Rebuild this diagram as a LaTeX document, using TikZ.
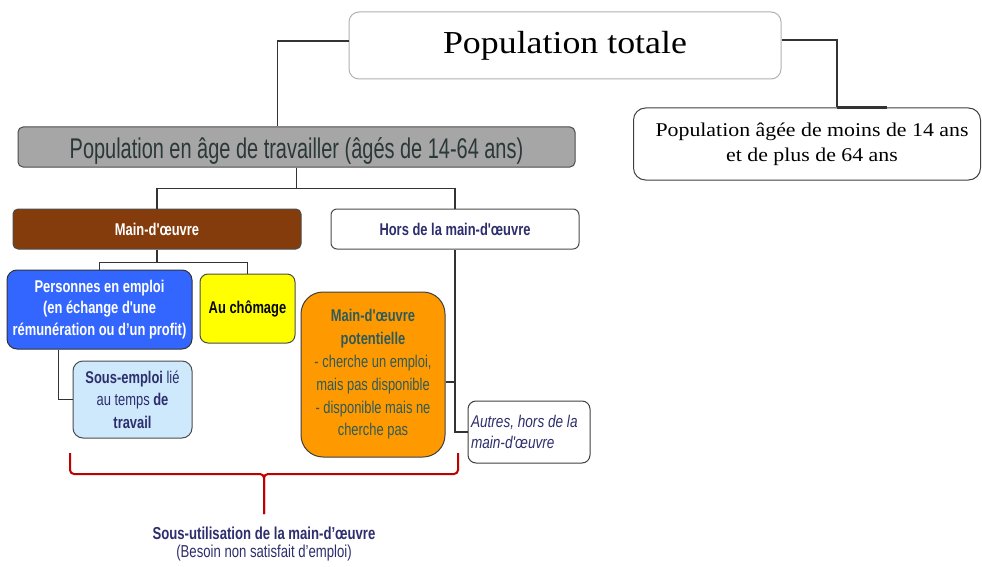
\documentclass[tikz,border=0pt]{standalone}
\usepackage{fontspec}
\newfontfamily\serifw[FakeStretch=1.12]{Liberation Serif}
\newfontfamily\nsans[FakeStretch=0.76]{Liberation Sans}
\newfontfamily\gsans[FakeStretch=0.70]{Liberation Sans}
\newfontfamily\isans[FakeStretch=0.80]{Liberation Sans}
\definecolor{brownbox}{HTML}{843C0C}
\definecolor{bluebox}{HTML}{3366FF}
\definecolor{yellowbox}{HTML}{FFFF00}
\definecolor{lightbluebox}{HTML}{CDE9FB}
\definecolor{orangebox}{HTML}{FF9900}
\definecolor{grayfill}{HTML}{A6A6A6}
\definecolor{navytext}{HTML}{2E2E6E}
\definecolor{tealtext}{HTML}{2F5B5B}
\definecolor{graytext}{HTML}{2B3838}
\definecolor{bracered}{HTML}{C00000}
\definecolor{linegray}{HTML}{333333}
\tikzset{
  conn/.style={draw=linegray, line width=1.1pt},
  bx/.style={rectangle, rounded corners=#1, line width=1pt, draw=black!75, inner sep=0pt, align=center},
  lbl/.style={font=\nsans\bfseries\fontsize{17}{21.3}\selectfont},
  bracestyle/.style={draw=bracered, line width=2pt, rounded corners=4pt},
}
\begin{document}
\begin{tikzpicture}[x=1pt,y=-1pt]
\useasboundingbox (0,0) rectangle (982,567);
\fill[white] (0,0) rectangle (982,567);

% nodes
\node[bx=10pt, draw=black!30, minimum width=432, minimum height=67,
      font=\serifw\fontsize{32}{38}\selectfont] (tot) at (565,45.5) {Population totale};
\node[bx=5pt, fill=grayfill, draw=black!70, minimum width=557, minimum height=40,
      text height=28, text depth=4.6, text=graytext,
      font=\gsans\fontsize{28.5}{34}\selectfont] (wap) at (296.5,147) {Population en âge de travailler (âgés de 14-64 ans)};
\node[bx=12pt, draw=black!75, minimum width=347, minimum height=72,
      font=\serifw\fontsize{19.5}{25}\selectfont] (old) at (807,144) {\hspace*{10pt}Population âgée de moins de 14 ans\\\hspace*{10pt}et de plus de 64 ans};
\node[bx=5pt, fill=brownbox, draw=black!70, minimum width=288, minimum height=40,
      lbl, text=white] (mdo) at (157,229) {Main-d'œuvre};
\node[bx=6pt, fill=white, draw=black!70, minimum width=248, minimum height=40,
      lbl, text=navytext] (hors) at (455,229) {Hors de la main-d'œuvre};
\node[bx=10pt, fill=bluebox, draw=black!80, minimum width=185, minimum height=79,
      lbl, text=white] (emp) at (99.5,309.5) {Personnes en emploi\\(en échange d'une\\rémunération ou d’un profit)};
\node[bx=8pt, fill=yellowbox, draw=black!70, minimum width=95, minimum height=69,
      lbl, text=black!85!navytext] (cho) at (247.5,308.5) {Au chômage};
\node[bx=10pt, fill=lightbluebox, draw=black!70, minimum width=119, minimum height=77,
      font=\nsans\fontsize{17}{22.5}\selectfont, text=navytext] (sous) at (132.5,399.5)
      {\textbf{Sous-emploi} lié\\au temps \textbf{de}\\\textbf{travail}};
\node[bx=22pt, fill=orangebox, draw=black!75, minimum width=144, minimum height=165,
      font=\nsans\fontsize{17}{22.8}\selectfont, text=tealtext] (pot) at (373,374.5)
      {\textbf{Main-d'œuvre}\\\textbf{potentielle}\\- cherche un emploi,\\mais pas disponible\\- disponible mais ne\\cherche pas};
\node[bx=8pt, fill=white, draw=black!75, align=flush left, text width=116, inner xsep=3,
      minimum height=62, font=\isans\itshape\fontsize{17}{21}\selectfont, text=navytext] (aut) at (529,432)
      {Autres, hors de la\\main-d'œuvre};
\node[align=center, inner sep=0pt, text=navytext, font=\nsans\fontsize{17.3}{17.7}\selectfont] (lab) at (264,544.2)
      {\textbf{Sous-utilisation de la main-d’œuvre}\\(Besoin non satisfait d’emploi)};

% connectors
\draw[conn] ([yshift=4.5]tot.west) -| ([xshift=260]wap.north west);
\draw[conn] ([yshift=5.5]tot.east) -| ([xshift=204]old.north west);
\draw[draw=linegray, line width=2.4pt] ([xshift=204]old.north west) -- ([xshift=254]old.north west);
\draw[conn] (wap.south) -- ++(0,21) coordinate (j1);
\draw[conn] (j1) -| (mdo.north);
\draw[conn] (j1) -| (hors.north);
\draw[conn] (mdo.south) -- ++(0,13) coordinate (j2);
\draw[conn] (j2) -| (emp.north);
\draw[conn] (j2) -| (cho.north);
\draw[conn] ([xshift=52]emp.south west) |- (sous.west);
\draw[conn] (hors.south) |- (aut.west);
\coordinate (pe) at ([yshift=-7.5]pot.east);
\draw[conn] (pe) -- (pe -| hors.south);

% brace
\draw[bracestyle] (70,453) |- (264,474) -- (264,514);
\draw[bracestyle] (458,453) |- (264,474) -- (264,514);
\end{tikzpicture}
\end{document}
